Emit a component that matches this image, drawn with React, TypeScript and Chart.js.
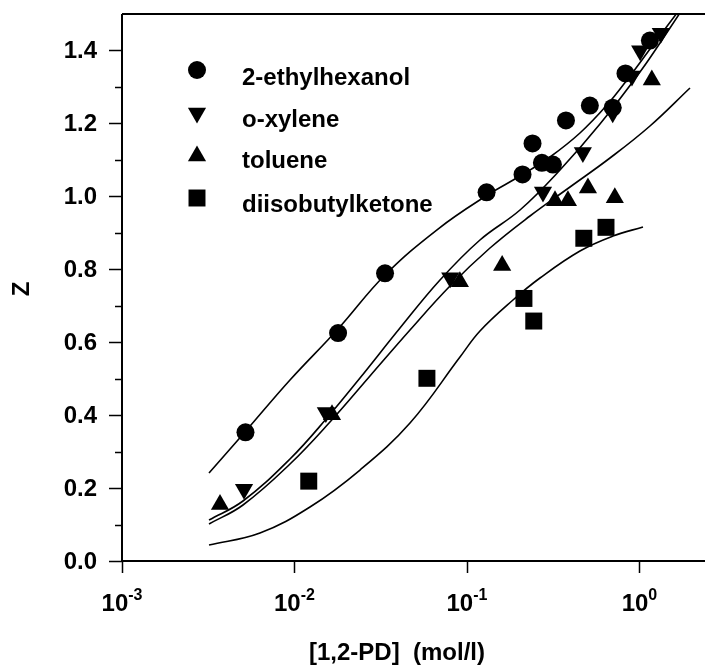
import React, { useEffect, useRef } from 'react';
import { Chart, registerables } from 'chart.js';
import { drawPoint } from 'chart.js/helpers';

Chart.register(...registerables);

// Measured Z values against 1,2-propanediol concentration (mol/l)
const ethylhexanolX = [0.0052, 0.0179, 0.0335, 0.130, 0.210, 0.240, 0.272, 0.315, 0.375, 0.516, 0.700, 0.830, 1.15];
const ethylhexanolZ = [0.353, 0.625, 0.789, 1.011, 1.060, 1.145, 1.092, 1.087, 1.208, 1.249, 1.243, 1.337, 1.427];

const xyleneX = [0.0051, 0.0152, 0.080, 0.276, 0.47, 0.70, 0.905, 1.01, 1.33];
const xyleneZ = [0.197, 0.407, 0.777, 1.012, 1.120, 1.229, 1.330, 1.399, 1.447];

const tolueneX = [0.0037, 0.0165, 0.091, 0.160, 0.324, 0.385, 0.503, 0.72, 1.18];
const tolueneZ = [0.155, 0.401, 0.766, 0.810, 0.988, 0.988, 1.023, 0.996, 1.319];

const ketoneX = [0.0121, 0.0586, 0.214, 0.244, 0.476, 0.64];
const ketoneZ = [0.219, 0.501, 0.720, 0.658, 0.885, 0.915];

// Fitted model curves
const ethylhexanolFitX = [0.003195, 0.005165, 0.009419, 0.01788, 0.03348, 0.06794, 0.1289, 0.2030, 0.3030, 0.4521, 0.6484, 0.8470, 1.1984, 1.6514, 1.9643];
const ethylhexanolFitZ = [0.2413, 0.3537, 0.4963, 0.6362, 0.7843, 0.9104, 1.0009, 1.0557, 1.1079, 1.1737, 1.2504, 1.3190, 1.4150, 1.5027, 1.5493];

const xyleneFitX = [0.003195, 0.005029, 0.009419, 0.01543, 0.02398, 0.04090, 0.06978, 0.1190, 0.2030, 0.3463, 0.5905, 1.0074, 1.5036, 2.0996];
const xyleneFitZ = [0.1124, 0.1645, 0.2797, 0.3921, 0.5018, 0.6389, 0.7706, 0.8803, 0.9625, 1.0722, 1.1983, 1.3409, 1.4616, 1.5658];

const tolueneFitX = [0.003195, 0.005029, 0.009419, 0.01606, 0.02740, 0.04675, 0.07975, 0.1360, 0.2320, 0.3958, 0.6750, 1.1513, 1.9643];
const tolueneFitZ = [0.1015, 0.1536, 0.2660, 0.3812, 0.5073, 0.6334, 0.7541, 0.8583, 0.9461, 1.0256, 1.1051, 1.1929, 1.2971];

const ketoneFitX = [0.003195, 0.006311, 0.01230, 0.02398, 0.04675, 0.09113, 0.1190, 0.1849, 0.2651, 0.4521, 0.7025, 1.0486];
const ketoneFitZ = [0.0439, 0.0768, 0.1481, 0.2495, 0.3784, 0.5594, 0.6307, 0.7157, 0.7760, 0.8501, 0.8912, 0.9159];

const seriesNames = ['2-ethylhexanol', 'o-xylene', 'toluene', 'diisobutylketone'];

const yMajorTicks = [0.0, 0.2, 0.4, 0.6, 0.8, 1.0, 1.2, 1.4];
const yMinorTicks = [0.1, 0.3, 0.5, 0.7, 0.9, 1.1, 1.3];
const xDecadeExponents = [-3, -2, -1, 0];

const xTitle = '[1,2-PD]  (mol/l)';
const yTitle = 'Z';

const FONT = '"Liberation Sans", Arial, Helvetica, sans-serif';

const toPoints = (xs: number[], ys: number[]) => xs.map((x, i) => ({ x, y: ys[i] }));

const markerStyles = [
  { pointStyle: 'circle', radius: 9, rotation: 0 },
  { pointStyle: 'triangle', radius: 10.5, rotation: 180 },
  { pointStyle: 'triangle', radius: 10.5, rotation: 0 },
  { pointStyle: 'rect', radius: 12, rotation: 0 },
];

const framePlugin = {
  id: 'frame',
  afterDraw(chart: any) {
    const ctx: CanvasRenderingContext2D = chart.ctx;
    const { left, right, top, bottom } = chart.chartArea;
    const xs = chart.scales.x;
    const ys = chart.scales.y;
    ctx.save();
    ctx.strokeStyle = '#000';
    ctx.fillStyle = '#000';
    ctx.lineWidth = 2;

    // axes and top border
    ctx.beginPath();
    ctx.moveTo(left, top);
    ctx.lineTo(left, bottom);
    ctx.lineTo(right, bottom);
    ctx.moveTo(left, top);
    ctx.lineTo(right, top);
    ctx.stroke();

    // y ticks
    ctx.lineWidth = 1.5;
    ctx.beginPath();
    for (const v of yMajorTicks) {
      const py = Math.round(ys.getPixelForValue(v)) + 0.5;
      ctx.moveTo(left - 13, py);
      ctx.lineTo(left, py);
    }
    for (const v of yMinorTicks) {
      const py = Math.round(ys.getPixelForValue(v)) + 0.5;
      ctx.moveTo(left - 7, py);
      ctx.lineTo(left, py);
    }
    // x ticks
    for (const e of xDecadeExponents) {
      const px = Math.round(xs.getPixelForValue(Math.pow(10, e))) + 0.5;
      ctx.moveTo(px, bottom);
      ctx.lineTo(px, bottom + 12);
    }
    ctx.stroke();

    // y tick labels
    ctx.font = `bold 24px ${FONT}`;
    ctx.textAlign = 'right';
    ctx.textBaseline = 'middle';
    for (const v of yMajorTicks) {
      ctx.fillText(v.toFixed(1), left - 25, ys.getPixelForValue(v) + 1);
    }

    // x tick labels: 10 with superscript exponent
    ctx.textAlign = 'left';
    ctx.textBaseline = 'alphabetic';
    for (const e of xDecadeExponents) {
      const px = xs.getPixelForValue(Math.pow(10, e));
      ctx.font = `bold 24px ${FONT}`;
      const baseW = ctx.measureText('10').width;
      ctx.font = `bold 16px ${FONT}`;
      const sup = String(e);
      const supW = ctx.measureText(sup).width;
      const x0 = px - (baseW + supW) / 2;
      ctx.font = `bold 24px ${FONT}`;
      ctx.fillText('10', x0, 611);
      ctx.font = `bold 16px ${FONT}`;
      ctx.fillText(sup, x0 + baseW, 600);
    }

    // axis titles
    ctx.font = `bold 24px ${FONT}`;
    ctx.textAlign = 'center';
    ctx.textBaseline = 'middle';
    ctx.fillText(xTitle, 397, 653);
    ctx.save();
    ctx.translate(22, 289);
    ctx.rotate(-Math.PI / 2);
    ctx.fillText(yTitle, 0, 0);
    ctx.restore();

    // legend
    const symbolY = [70, 113, 156, 198];
    const textBase = [85, 127, 168, 212];
    ctx.textAlign = 'left';
    ctx.textBaseline = 'alphabetic';
    for (let i = 0; i < seriesNames.length; i++) {
      const m = markerStyles[i];
      ctx.fillStyle = '#000';
      drawPoint(ctx, { pointStyle: m.pointStyle as any, radius: m.radius, rotation: m.rotation, borderWidth: 0 }, 197, symbolY[i]);
      ctx.fillText(seriesNames[i], 242, textBase[i]);
    }
    ctx.restore();
  },
};

const pointSet = (xs: number[], ys: number[], i: number) => ({
  data: toPoints(xs, ys),
  showLine: false,
  pointStyle: markerStyles[i].pointStyle,
  pointRotation: markerStyles[i].rotation,
  pointRadius: markerStyles[i].radius,
  pointHoverRadius: markerStyles[i].radius,
  pointBackgroundColor: '#000',
  pointBorderColor: '#000',
  pointBorderWidth: 0,
});

const curveSet = (xs: number[], ys: number[]) => ({
  data: toPoints(xs, ys),
  showLine: true,
  pointRadius: 0,
  pointHoverRadius: 0,
  borderColor: '#000',
  borderWidth: 1.6,
  tension: 0.4,
  fill: false,
});

export default function App() {
  const ref = useRef<HTMLCanvasElement>(null);
  useEffect(() => {
    if (!ref.current) return;
    const chart = new Chart(ref.current, {
      type: 'scatter',
      data: {
        datasets: [
          pointSet(ethylhexanolX, ethylhexanolZ, 0),
          pointSet(xyleneX, xyleneZ, 1),
          pointSet(tolueneX, tolueneZ, 2),
          pointSet(ketoneX, ketoneZ, 3),
          curveSet(ethylhexanolFitX, ethylhexanolFitZ),
          curveSet(xyleneFitX, xyleneFitZ),
          curveSet(tolueneFitX, tolueneFitZ),
          curveSet(ketoneFitX, ketoneFitZ),
        ] as any,
      },
      options: {
        responsive: false,
        animation: false,
        devicePixelRatio: 1,
        layout: { autoPadding: false, padding: { left: 122, top: 14, right: 0, bottom: 105 } },
        plugins: { legend: { display: false }, tooltip: { enabled: false } },
        scales: {
          x: { type: 'logarithmic', min: 0.001, max: 2.4, display: false },
          y: { type: 'linear', min: 0, max: 1.5, display: false },
        },
      },
      plugins: [framePlugin],
    });
    return () => chart.destroy();
  }, []);
  return (
    <div style={{ position: 'absolute', left: 0, top: 0, width: 705, height: 666, background: '#fff' }}>
      <canvas ref={ref} width={705} height={666} style={{ display: 'block' }} />
    </div>
  );
}
